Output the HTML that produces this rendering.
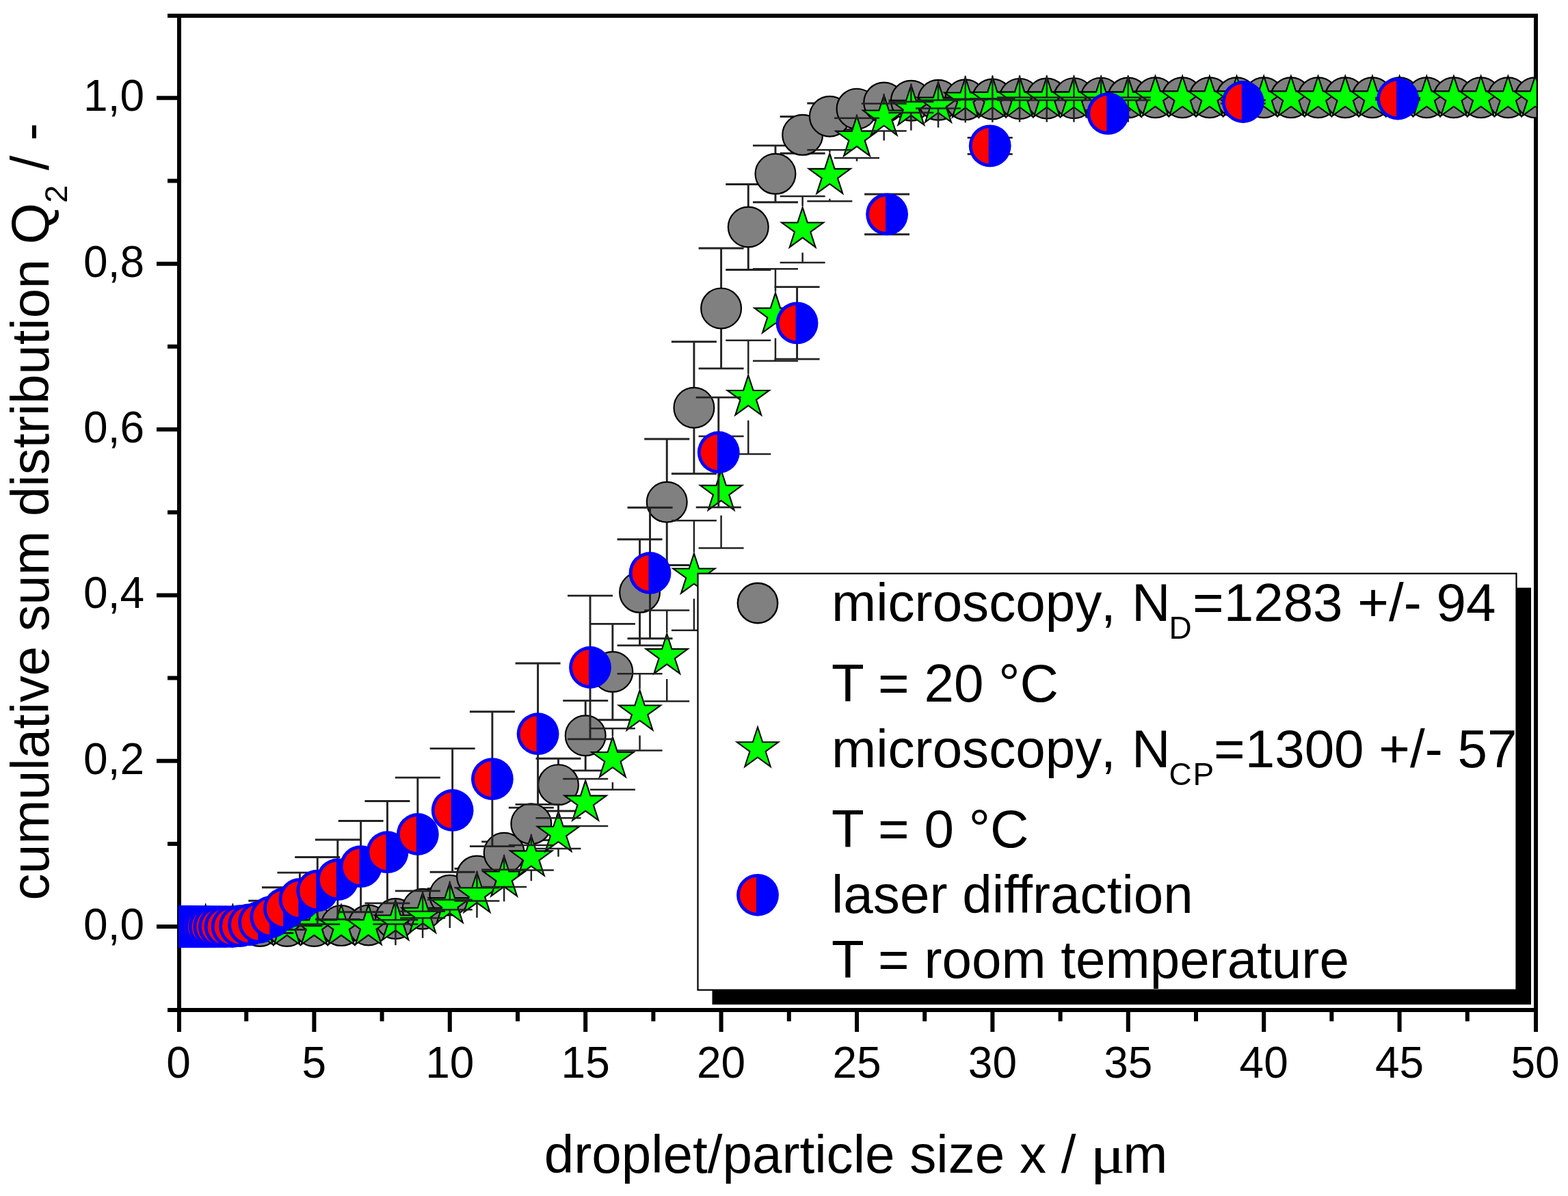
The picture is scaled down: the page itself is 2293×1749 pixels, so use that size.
<!DOCTYPE html>
<html lang="en"><head><meta charset="utf-8"><title>cumulative sum distribution</title>
<style>html,body{margin:0;padding:0;background:#fff;overflow:hidden;width:2293px;height:1749px}svg{display:block}text{font-family:"Liberation Sans",sans-serif;fill:#000}.tk{font-size:64px}.leg{font-size:78.2px}.sub{font-size:46px}</style></head><body>
<svg width="2293" height="1749" viewBox="0 0 2293 1749">
<rect width="2293" height="1749" fill="#fff"/>
<defs><clipPath id="plot"><rect x="261" y="23.0" width="1985.6" height="1454.0"/></clipPath></defs>
<g stroke="#000" stroke-width="6" fill="none" stroke-linecap="butt">
<rect x="262.0" y="23.0" width="1984.0" height="1454.0"/>
<path d="M229 1355.1H262.0M229 1112.74H262.0M229 870.38H262.0M229 628.02H262.0M229 385.66H262.0M229 143.3H262.0M245 1233.92H262.0M245 991.56H262.0M245 749.2H262.0M245 506.84H262.0M245 264.48H262.0M245 23.0H262.0M245 1477.0H262.0M262 1477.0V1509M459.4 1477.0V1509M657.8 1477.0V1509M856.2 1477.0V1509M1054.6 1477.0V1509M1253 1477.0V1509M1451.4 1477.0V1509M1649.8 1477.0V1509M1848.2 1477.0V1509M2046.6 1477.0V1509M2246 1477.0V1509M360.2 1477.0V1493.5M558.6 1477.0V1493.5M757 1477.0V1493.5M955.4 1477.0V1493.5M1153.8 1477.0V1493.5M1352.2 1477.0V1493.5M1550.6 1477.0V1493.5M1749 1477.0V1493.5M1947.4 1477.0V1493.5M2145.8 1477.0V1493.5"/>
</g>
<g clip-path="url(#plot)">
<path d="M538.76 1322.97V1350.55M505.76 1350.55H571.76M538.76 1382.97V1355.39M505.76 1355.39H571.76M578.44 1313.52V1338.67M545.44 1338.67H611.44M578.44 1373.52V1348.36M545.44 1348.36H611.44M618.12 1299.21V1321.94M585.12 1321.94H651.12M618.12 1359.21V1336.49M585.12 1336.49H651.12M657.8 1279.21V1299.52M624.8 1299.52H690.8M657.8 1339.21V1318.91M624.8 1318.91H690.8M697.48 1251.09V1270.18M664.48 1270.18H730.48M697.48 1311.09V1292M664.48 1292H730.48M737.16 1217.27V1230.91M704.16 1230.91H770.16M737.16 1277.27V1263.64M704.16 1263.64H770.16M776.84 1174.85V1181.09M743.84 1181.09H809.84M776.84 1234.85V1228.61M743.84 1228.61H809.84M816.52 1117.64V1109.22M783.52 1109.22H849.52M816.52 1177.64V1186.06M783.52 1186.06H849.52M856.2 1045.76V1024.61M823.2 1024.61H889.2M856.2 1105.76V1126.91M823.2 1126.91H889.2M895.88 952.55V912.37M862.88 912.37H928.88M895.88 1012.55V1052.73M862.88 1052.73H928.88M935.56 836.31V788.74M902.56 788.74H968.56M935.56 896.31V943.89M902.56 943.89H968.56M975.24 704.31V642.07M942.24 642.07H1008.24M975.24 764.31V826.55M942.24 826.55H1008.24M1014.92 566.26V499.77M981.92 499.77H1047.92M1014.92 626.26V692.74M981.92 692.74H1047.92M1054.6 420.92V362.93M1021.6 362.93H1087.6M1054.6 480.92V538.92M1021.6 538.92H1087.6M1094.28 302.02V269.47M1061.28 269.47H1127.28M1094.28 362.02V394.56M1061.28 394.56H1127.28M1133.96 224.32V212.87M1100.96 212.87H1166.96M1133.96 284.32V295.78M1100.96 295.78H1166.96M1173.64 167.35V170.44M1140.64 170.44H1206.64M1173.64 227.35V224.26M1140.64 224.26H1206.64M1213.32 140.2V151.05M1180.32 151.05H1246.32M1213.32 200.2V189.35M1180.32 189.35H1246.32M1253 129.17V147.05M1220 147.05H1286M1253 189.17V171.29M1220 171.29H1286M1292.68 119.96V143.9M1259.68 143.9H1325.68M1292.68 179.96V156.02M1259.68 156.02H1325.68M1332.36 117.29V143.66M1299.36 143.66H1365.36M1332.36 177.29V150.93M1299.36 150.93H1365.36M1372.04 116.32V143.9M1339.04 143.9H1405.04M1372.04 176.32V148.75M1339.04 148.75H1405.04M1411.72 115.84V144.63M1378.72 144.63H1444.72M1411.72 175.84V147.05M1378.72 147.05H1444.72" fill="none" stroke="#222222" stroke-width="2.9"/>
<g fill="#808080" stroke="#000" stroke-width="2.2">
<circle cx="380.04" cy="1354.42" r="29.4"/>
<circle cx="419.72" cy="1354.42" r="29.4"/>
<circle cx="459.4" cy="1354.42" r="29.4"/>
<circle cx="499.08" cy="1353.58" r="29.4"/>
<circle cx="538.76" cy="1352.97" r="29.4"/>
<circle cx="578.44" cy="1343.52" r="29.4"/>
<circle cx="618.12" cy="1329.21" r="29.4"/>
<circle cx="657.8" cy="1309.21" r="29.4"/>
<circle cx="697.48" cy="1281.09" r="29.4"/>
<circle cx="737.16" cy="1247.27" r="29.4"/>
<circle cx="776.84" cy="1204.85" r="29.4"/>
<circle cx="816.52" cy="1147.64" r="29.4"/>
<circle cx="856.2" cy="1075.76" r="29.4"/>
<circle cx="895.88" cy="982.55" r="29.4"/>
<circle cx="935.56" cy="866.31" r="29.4"/>
<circle cx="975.24" cy="734.31" r="29.4"/>
<circle cx="1014.92" cy="596.26" r="29.4"/>
<circle cx="1054.6" cy="450.92" r="29.4"/>
<circle cx="1094.28" cy="332.02" r="29.4"/>
<circle cx="1133.96" cy="254.32" r="29.4"/>
<circle cx="1173.64" cy="197.35" r="29.4"/>
<circle cx="1213.32" cy="170.2" r="29.4"/>
<circle cx="1253" cy="159.17" r="29.4"/>
<circle cx="1292.68" cy="149.96" r="29.4"/>
<circle cx="1332.36" cy="147.29" r="29.4"/>
<circle cx="1372.04" cy="146.32" r="29.4"/>
<circle cx="1411.72" cy="145.84" r="29.4"/>
<circle cx="1451.4" cy="144.99" r="29.4"/>
<circle cx="1491.08" cy="144.38" r="29.4"/>
<circle cx="1530.76" cy="144.02" r="29.4"/>
<circle cx="1570.44" cy="143.66" r="29.4"/>
<circle cx="1610.12" cy="143.17" r="29.4"/>
<circle cx="1649.8" cy="142.93" r="29.4"/>
<circle cx="1689.48" cy="142.69" r="29.4"/>
<circle cx="1729.16" cy="142.69" r="29.4"/>
<circle cx="1768.84" cy="142.69" r="29.4"/>
<circle cx="1808.52" cy="142.69" r="29.4"/>
<circle cx="1848.2" cy="142.69" r="29.4"/>
<circle cx="1887.88" cy="142.69" r="29.4"/>
<circle cx="1927.56" cy="142.69" r="29.4"/>
<circle cx="1967.24" cy="142.69" r="29.4"/>
<circle cx="2006.92" cy="142.69" r="29.4"/>
<circle cx="2046.6" cy="142.69" r="29.4"/>
<circle cx="2086.28" cy="142.69" r="29.4"/>
<circle cx="2125.96" cy="142.69" r="29.4"/>
<circle cx="2165.64" cy="142.69" r="29.4"/>
<circle cx="2205.32" cy="142.69" r="29.4"/>
<circle cx="2245" cy="142.69" r="29.4"/>
</g>
<g fill="#00ff00" stroke="#000" stroke-width="2.1" stroke-linejoin="miter">
<polygon points="300.68,1323.29 307.89,1345.47 331.21,1345.47 312.34,1359.18 319.55,1381.36 300.68,1367.66 281.81,1381.36 289.02,1359.18 270.15,1345.47 293.47,1345.47"/>
<polygon points="340.36,1323.29 347.57,1345.47 370.89,1345.47 352.02,1359.18 359.23,1381.36 340.36,1367.66 321.49,1381.36 328.7,1359.18 309.83,1345.47 333.15,1345.47"/>
<polygon points="380.04,1323.29 387.25,1345.47 410.57,1345.47 391.7,1359.18 398.91,1381.36 380.04,1367.66 361.17,1381.36 368.38,1359.18 349.51,1345.47 372.83,1345.47"/>
<polygon points="419.72,1323.29 426.93,1345.47 450.25,1345.47 431.38,1359.18 438.59,1381.36 419.72,1367.66 400.85,1381.36 408.06,1359.18 389.19,1345.47 412.51,1345.47"/>
<polygon points="459.4,1323.29 466.61,1345.47 489.93,1345.47 471.06,1359.18 478.27,1381.36 459.4,1367.66 440.53,1381.36 447.74,1359.18 428.87,1345.47 452.19,1345.47"/>
<polygon points="499.08,1323.29 506.29,1345.47 529.61,1345.47 510.74,1359.18 517.95,1381.36 499.08,1367.66 480.21,1381.36 487.42,1359.18 468.55,1345.47 491.87,1345.47"/>
<polygon points="538.76,1322.93 545.97,1345.11 569.29,1345.11 550.42,1358.82 557.63,1381 538.76,1367.29 519.89,1381 527.1,1358.82 508.23,1345.11 531.55,1345.11"/>
<polygon points="578.44,1316.26 585.65,1338.44 608.97,1338.44 590.1,1352.15 597.31,1374.33 578.44,1360.62 559.57,1374.33 566.78,1352.15 547.91,1338.44 571.23,1338.44"/>
<polygon points="618.12,1305.6 625.33,1327.78 648.65,1327.78 629.78,1341.49 636.99,1363.67 618.12,1349.96 599.25,1363.67 606.46,1341.49 587.59,1327.78 610.91,1327.78"/>
<polygon points="657.8,1290.93 665.01,1313.11 688.33,1313.11 669.46,1326.82 676.67,1349 657.8,1335.29 638.93,1349 646.14,1326.82 627.27,1313.11 650.59,1313.11"/>
<polygon points="697.48,1275.78 704.69,1297.96 728.01,1297.96 709.14,1311.67 716.35,1333.85 697.48,1320.14 678.61,1333.85 685.82,1311.67 666.95,1297.96 690.27,1297.96"/>
<polygon points="737.16,1252.26 744.37,1274.45 767.69,1274.45 748.82,1288.15 756.03,1310.33 737.16,1296.63 718.29,1310.33 725.5,1288.15 706.63,1274.45 729.95,1274.45"/>
<polygon points="776.84,1222.2 784.05,1244.39 807.37,1244.39 788.5,1258.09 795.71,1280.27 776.84,1266.57 757.97,1280.27 765.18,1258.09 746.31,1244.39 769.63,1244.39"/>
<polygon points="816.52,1186.57 823.73,1208.75 847.05,1208.75 828.18,1222.46 835.39,1244.64 816.52,1230.93 797.65,1244.64 804.86,1222.46 785.99,1208.75 809.31,1208.75"/>
<polygon points="856.2,1141.48 863.41,1163.66 886.73,1163.66 867.86,1177.37 875.07,1199.55 856.2,1185.84 837.33,1199.55 844.54,1177.37 825.67,1163.66 848.99,1163.66"/>
<polygon points="895.88,1077.84 903.09,1100.02 926.41,1100.02 907.54,1113.73 914.75,1135.91 895.88,1122.2 877.01,1135.91 884.22,1113.73 865.35,1100.02 888.67,1100.02"/>
<polygon points="935.56,1009.36 942.77,1031.54 966.09,1031.54 947.22,1045.25 954.43,1067.43 935.56,1053.72 916.69,1067.43 923.9,1045.25 905.03,1031.54 928.35,1031.54"/>
<polygon points="975.24,926.94 982.45,949.12 1005.77,949.12 986.9,962.83 994.11,985.01 975.24,971.3 956.37,985.01 963.58,962.83 944.71,949.12 968.03,949.12"/>
<polygon points="1014.92,809.36 1022.13,831.54 1045.45,831.54 1026.58,845.25 1033.79,867.43 1014.92,853.72 996.05,867.43 1003.26,845.25 984.39,831.54 1007.71,831.54"/>
<polygon points="1054.6,687.67 1061.81,709.85 1085.13,709.85 1066.26,723.56 1073.47,745.74 1054.6,732.03 1035.73,745.74 1042.94,723.56 1024.07,709.85 1047.39,709.85"/>
<polygon points="1094.28,548.76 1101.49,570.94 1124.81,570.94 1105.94,584.65 1113.15,606.83 1094.28,593.12 1075.41,606.83 1082.62,584.65 1063.75,570.94 1087.07,570.94"/>
<polygon points="1133.96,428.4 1141.17,450.58 1164.49,450.58 1145.62,464.29 1152.83,486.47 1133.96,472.76 1115.09,486.47 1122.3,464.29 1103.43,450.58 1126.75,450.58"/>
<polygon points="1173.64,303.31 1180.85,325.49 1204.17,325.49 1185.3,339.2 1192.51,361.38 1173.64,347.67 1154.77,361.38 1161.98,339.2 1143.11,325.49 1166.43,325.49"/>
<polygon points="1213.32,224.65 1220.53,246.83 1243.85,246.83 1224.98,260.54 1232.19,282.72 1213.32,269.01 1194.45,282.72 1201.66,260.54 1182.79,246.83 1206.11,246.83"/>
<polygon points="1253,169.74 1260.21,191.92 1283.53,191.92 1264.66,205.63 1271.87,227.81 1253,214.1 1234.13,227.81 1241.34,205.63 1222.47,191.92 1245.79,191.92"/>
<polygon points="1292.68,139.31 1299.89,161.5 1323.21,161.5 1304.34,175.2 1311.55,197.38 1292.68,183.68 1273.81,197.38 1281.02,175.2 1262.15,161.5 1285.47,161.5"/>
<polygon points="1332.36,124.53 1339.57,146.71 1362.89,146.71 1344.02,160.42 1351.23,182.6 1332.36,168.89 1313.49,182.6 1320.7,160.42 1301.83,146.71 1325.15,146.71"/>
<polygon points="1372.04,120.41 1379.25,142.59 1402.57,142.59 1383.7,156.29 1390.91,178.48 1372.04,164.77 1353.17,178.48 1360.38,156.29 1341.51,142.59 1364.83,142.59"/>
<polygon points="1411.72,113.25 1418.93,135.44 1442.25,135.44 1423.38,149.14 1430.59,171.32 1411.72,157.62 1392.85,171.32 1400.06,149.14 1381.19,135.44 1404.51,135.44"/>
<polygon points="1451.4,112.65 1458.61,134.83 1481.93,134.83 1463.06,148.54 1470.27,170.72 1451.4,157.01 1432.53,170.72 1439.74,148.54 1420.87,134.83 1444.19,134.83"/>
<polygon points="1491.08,112.41 1498.29,134.59 1521.61,134.59 1502.74,148.29 1509.95,170.48 1491.08,156.77 1472.21,170.48 1479.42,148.29 1460.55,134.59 1483.87,134.59"/>
<polygon points="1530.76,112.41 1537.97,134.59 1561.29,134.59 1542.42,148.29 1549.63,170.48 1530.76,156.77 1511.89,170.48 1519.1,148.29 1500.23,134.59 1523.55,134.59"/>
<polygon points="1570.44,112.41 1577.65,134.59 1600.97,134.59 1582.1,148.29 1589.31,170.48 1570.44,156.77 1551.57,170.48 1558.78,148.29 1539.91,134.59 1563.23,134.59"/>
<polygon points="1610.12,112.41 1617.33,134.59 1640.65,134.59 1621.78,148.29 1628.99,170.48 1610.12,156.77 1591.25,170.48 1598.46,148.29 1579.59,134.59 1602.91,134.59"/>
<polygon points="1649.8,112.41 1657.01,134.59 1680.33,134.59 1661.46,148.29 1668.67,170.48 1649.8,156.77 1630.93,170.48 1638.14,148.29 1619.27,134.59 1642.59,134.59"/>
<polygon points="1689.48,111.32 1696.69,133.5 1720.01,133.5 1701.14,147.2 1708.35,169.38 1689.48,155.68 1670.61,169.38 1677.82,147.2 1658.95,133.5 1682.27,133.5"/>
<polygon points="1729.16,111.32 1736.37,133.5 1759.69,133.5 1740.82,147.2 1748.03,169.38 1729.16,155.68 1710.29,169.38 1717.5,147.2 1698.63,133.5 1721.95,133.5"/>
<polygon points="1768.84,111.32 1776.05,133.5 1799.37,133.5 1780.5,147.2 1787.71,169.38 1768.84,155.68 1749.97,169.38 1757.18,147.2 1738.31,133.5 1761.63,133.5"/>
<polygon points="1808.52,111.32 1815.73,133.5 1839.05,133.5 1820.18,147.2 1827.39,169.38 1808.52,155.68 1789.65,169.38 1796.86,147.2 1777.99,133.5 1801.31,133.5"/>
<polygon points="1848.2,111.32 1855.41,133.5 1878.73,133.5 1859.86,147.2 1867.07,169.38 1848.2,155.68 1829.33,169.38 1836.54,147.2 1817.67,133.5 1840.99,133.5"/>
<polygon points="1887.88,111.32 1895.09,133.5 1918.41,133.5 1899.54,147.2 1906.75,169.38 1887.88,155.68 1869.01,169.38 1876.22,147.2 1857.35,133.5 1880.67,133.5"/>
<polygon points="1927.56,111.32 1934.77,133.5 1958.09,133.5 1939.22,147.2 1946.43,169.38 1927.56,155.68 1908.69,169.38 1915.9,147.2 1897.03,133.5 1920.35,133.5"/>
<polygon points="1967.24,111.32 1974.45,133.5 1997.77,133.5 1978.9,147.2 1986.11,169.38 1967.24,155.68 1948.37,169.38 1955.58,147.2 1936.71,133.5 1960.03,133.5"/>
<polygon points="2006.92,111.32 2014.13,133.5 2037.45,133.5 2018.58,147.2 2025.79,169.38 2006.92,155.68 1988.05,169.38 1995.26,147.2 1976.39,133.5 1999.71,133.5"/>
<polygon points="2046.6,111.32 2053.81,133.5 2077.13,133.5 2058.26,147.2 2065.47,169.38 2046.6,155.68 2027.73,169.38 2034.94,147.2 2016.07,133.5 2039.39,133.5"/>
<polygon points="2086.28,111.32 2093.49,133.5 2116.81,133.5 2097.94,147.2 2105.15,169.38 2086.28,155.68 2067.41,169.38 2074.62,147.2 2055.75,133.5 2079.07,133.5"/>
<polygon points="2125.96,111.32 2133.17,133.5 2156.49,133.5 2137.62,147.2 2144.83,169.38 2125.96,155.68 2107.09,169.38 2114.3,147.2 2095.43,133.5 2118.75,133.5"/>
<polygon points="2165.64,111.32 2172.85,133.5 2196.17,133.5 2177.3,147.2 2184.51,169.38 2165.64,155.68 2146.77,169.38 2153.98,147.2 2135.11,133.5 2158.43,133.5"/>
<polygon points="2205.32,111.32 2212.53,133.5 2235.85,133.5 2216.98,147.2 2224.19,169.38 2205.32,155.68 2186.45,169.38 2193.66,147.2 2174.79,133.5 2198.11,133.5"/>
<polygon points="2245,111.32 2252.21,133.5 2275.53,133.5 2256.66,147.2 2263.87,169.38 2245,155.68 2226.13,169.38 2233.34,147.2 2214.47,133.5 2237.79,133.5"/>
</g>
<path d="M578.44 1314.36V1345.33M545.44 1345.33H611.44M578.44 1382.36V1351.39M545.44 1351.39H611.44M618.12 1303.7V1332.85M585.12 1332.85H651.12M618.12 1371.7V1342.55M585.12 1342.55H651.12M657.8 1289.03V1315.76M624.8 1315.76H690.8M657.8 1357.03V1330.3M624.8 1330.3H690.8M697.48 1273.88V1298.18M664.48 1298.18H730.48M697.48 1341.88V1317.58M664.48 1317.58H730.48M737.16 1250.36V1271.64M704.16 1271.64H770.16M737.16 1318.36V1297.09M704.16 1297.09H770.16M776.84 1220.3V1236M743.84 1236H809.84M776.84 1288.3V1272.61M743.84 1272.61H809.84M816.52 1184.67V1196.37M783.52 1196.37H849.52M816.52 1252.67V1240.97M783.52 1240.97H849.52M856.2 1139.58V1139.03M823.2 1139.03H889.2M856.2 1207.58V1208.12M823.2 1208.12H889.2M895.88 1075.94V1065.22M862.88 1065.22H928.88M895.88 1143.94V1154.67M862.88 1154.67H928.88M935.56 1007.46V985.34M902.56 985.34H968.56M935.56 1075.46V1097.58M902.56 1097.58H968.56M975.24 925.04V892.49M942.24 892.49H1008.24M975.24 993.04V1025.58M942.24 1025.58H1008.24M1014.92 807.46V761.22M981.92 761.22H1047.92M1014.92 875.46V921.7M981.92 921.7H1047.92M1054.6 685.77V637.95M1021.6 637.95H1087.6M1054.6 753.77V801.59M1021.6 801.59H1087.6M1094.28 546.86V497.83M1061.28 497.83H1127.28M1094.28 614.86V663.89M1061.28 663.89H1127.28M1133.96 426.5V393.35M1100.96 393.35H1166.96M1133.96 494.5V527.65M1100.96 527.65H1166.96M1173.64 301.41V286.93M1140.64 286.93H1206.64M1173.64 369.41V383.9M1140.64 383.9H1206.64M1213.32 222.75V219.29M1180.32 219.29H1246.32M1213.32 290.75V294.2M1180.32 294.2H1246.32M1253 167.84V172.75M1220 172.75H1286M1253 235.84V230.93M1220 230.93H1286M1292.68 137.41V151.42M1259.68 151.42H1325.68M1292.68 205.41V191.41M1259.68 191.41H1325.68M1332.36 122.63V148.63M1299.36 148.63H1365.36M1332.36 190.63V164.63M1299.36 164.63H1365.36M1372.04 118.51V146.45M1339.04 146.45H1405.04M1372.04 186.51V158.57M1339.04 158.57H1405.04M1411.72 111.35V144.87M1378.72 144.87H1444.72M1411.72 179.35V145.84M1378.72 145.84H1444.72M1451.4 110.75V144.26M1418.4 144.26H1484.4M1451.4 178.75V145.23M1418.4 145.23H1484.4M1491.08 110.51V142.57M1458.08 142.57H1524.08M1491.08 178.51V146.45M1458.08 146.45H1524.08M1530.76 110.51V142.57M1497.76 142.57H1563.76M1530.76 178.51V146.45M1497.76 146.45H1563.76M1570.44 110.51V142.57M1537.44 142.57H1603.44M1570.44 178.51V146.45M1537.44 146.45H1603.44M1610.12 110.51V142.57M1577.12 142.57H1643.12M1610.12 178.51V146.45M1577.12 146.45H1643.12M1649.8 110.51V142.57M1616.8 142.57H1682.8M1649.8 178.51V146.45M1616.8 146.45H1682.8" fill="none" stroke="#222222" stroke-width="2.5"/>
<path d="M351.03 1324.18V1350.55M318.03 1350.55H384.03M351.03 1384.18V1357.82M318.03 1357.82H384.03M364.13 1322.36V1343.88M331.13 1343.88H397.13M364.13 1382.36V1360.85M331.13 1360.85H397.13M379.09 1318.73V1334.18M346.09 1334.18H412.09M379.09 1378.73V1363.27M346.09 1363.27H412.09M396.27 1310.85V1317.21M363.27 1317.21H429.27M396.27 1370.85V1364.48M363.27 1364.48H429.27M415.95 1298.61V1297.7M382.95 1297.7H448.95M415.95 1358.61V1359.52M382.95 1359.52H448.95M438.45 1284.91V1276.12M405.45 1276.12H471.45M438.45 1344.91V1353.7M405.45 1353.7H471.45M464.24 1272.55V1253.46M431.24 1253.46H497.24M464.24 1332.55V1351.64M431.24 1351.64H497.24M493.8 1256.18V1228M460.8 1228H526.8M493.8 1316.18V1344.36M460.8 1344.36H526.8M527.65 1237.15V1200.49M494.65 1200.49H560.65M527.65 1297.15V1333.82M494.65 1333.82H560.65M566.42 1216.18V1171.52M533.42 1171.52H599.42M566.42 1276.18V1320.85M533.42 1320.85H599.42M610.82 1190V1137.09M577.82 1137.09H643.82M610.82 1250V1302.91M577.82 1302.91H643.82M661.65 1154.97V1094.67M628.65 1094.67H694.65M661.65 1214.97V1275.27M628.65 1275.27H694.65M719.9 1109.16V1040.73M686.9 1040.73H752.9M719.9 1169.16V1237.58M686.9 1237.58H752.9M786.6 1043.22V970.07M753.6 970.07H819.6M786.6 1103.22V1176.37M753.6 1176.37H819.6M863.02 946.01V871.16M830.02 871.16H896.02M863.02 1006.01V1080.85M830.02 1080.85H896.02M950.52 807.95V742.19M917.52 742.19H983.52M950.52 867.95V933.7M917.52 933.7H983.52M1050.79 631.47V581.1M1017.79 581.1H1083.79M1050.79 691.47V741.83M1017.79 741.83H1083.79M1165.58 442.38V419.65M1132.58 419.65H1198.58M1165.58 502.38V525.11M1132.58 525.11H1198.58M1297.08 283.35V284.02M1264.08 284.02H1330.08M1297.08 343.35V342.68M1264.08 342.68H1330.08M1447.71 183.35V201.35M1414.71 201.35H1480.71M1447.71 243.35V225.35M1414.71 225.35H1480.71M1620.24 136.08V161.23M1587.24 161.23H1653.24M1620.24 196.08V170.93M1587.24 170.93H1653.24M1817.81 118.99V146.57M1784.81 146.57H1850.81M1817.81 178.99V151.42M1784.81 151.42H1850.81M2044.14 114.51V143.29M2011.14 143.29H2077.14M2044.14 174.51V145.72M2011.14 145.72H2077.14" fill="none" stroke="#222222" stroke-width="2.9"/>
<circle cx="261.44" cy="1355.15" r="30.9" fill="#0000ff"/><path d="M259.44 1329.13A26.1 26.1 0 0 0 259.44 1381.17Z" fill="#ff0000"/>
<circle cx="261.52" cy="1355.15" r="30.9" fill="#0000ff"/><path d="M259.52 1329.13A26.1 26.1 0 0 0 259.52 1381.17Z" fill="#ff0000"/>
<circle cx="261.6" cy="1355.15" r="30.9" fill="#0000ff"/><path d="M259.6 1329.13A26.1 26.1 0 0 0 259.6 1381.17Z" fill="#ff0000"/>
<circle cx="261.67" cy="1355.15" r="30.9" fill="#0000ff"/><path d="M259.67 1329.13A26.1 26.1 0 0 0 259.67 1381.17Z" fill="#ff0000"/>
<circle cx="261.79" cy="1355.15" r="30.9" fill="#0000ff"/><path d="M259.79 1329.13A26.1 26.1 0 0 0 259.79 1381.17Z" fill="#ff0000"/>
<circle cx="261.91" cy="1355.15" r="30.9" fill="#0000ff"/><path d="M259.91 1329.13A26.1 26.1 0 0 0 259.91 1381.17Z" fill="#ff0000"/>
<circle cx="262.03" cy="1355.15" r="30.9" fill="#0000ff"/><path d="M260.03 1329.13A26.1 26.1 0 0 0 260.03 1381.17Z" fill="#ff0000"/>
<circle cx="262.19" cy="1355.15" r="30.9" fill="#0000ff"/><path d="M260.19 1329.13A26.1 26.1 0 0 0 260.19 1381.17Z" fill="#ff0000"/>
<circle cx="262.35" cy="1355.15" r="30.9" fill="#0000ff"/><path d="M260.35 1329.13A26.1 26.1 0 0 0 260.35 1381.17Z" fill="#ff0000"/>
<circle cx="262.55" cy="1355.15" r="30.9" fill="#0000ff"/><path d="M260.55 1329.13A26.1 26.1 0 0 0 260.55 1381.17Z" fill="#ff0000"/>
<circle cx="262.75" cy="1355.15" r="30.9" fill="#0000ff"/><path d="M260.75 1329.13A26.1 26.1 0 0 0 260.75 1381.17Z" fill="#ff0000"/>
<circle cx="263.02" cy="1355.15" r="30.9" fill="#0000ff"/><path d="M261.02 1329.13A26.1 26.1 0 0 0 261.02 1381.17Z" fill="#ff0000"/>
<circle cx="263.3" cy="1355.15" r="30.9" fill="#0000ff"/><path d="M261.3 1329.13A26.1 26.1 0 0 0 261.3 1381.17Z" fill="#ff0000"/>
<circle cx="263.66" cy="1355.15" r="30.9" fill="#0000ff"/><path d="M261.66 1329.13A26.1 26.1 0 0 0 261.66 1381.17Z" fill="#ff0000"/>
<circle cx="264.02" cy="1355.15" r="30.9" fill="#0000ff"/><path d="M262.02 1329.13A26.1 26.1 0 0 0 262.02 1381.17Z" fill="#ff0000"/>
<circle cx="264.45" cy="1355.15" r="30.9" fill="#0000ff"/><path d="M262.45 1329.13A26.1 26.1 0 0 0 262.45 1381.17Z" fill="#ff0000"/>
<circle cx="264.97" cy="1355.15" r="30.9" fill="#0000ff"/><path d="M262.97 1329.13A26.1 26.1 0 0 0 262.97 1381.17Z" fill="#ff0000"/>
<circle cx="265.56" cy="1355.15" r="30.9" fill="#0000ff"/><path d="M263.56 1329.13A26.1 26.1 0 0 0 263.56 1381.17Z" fill="#ff0000"/>
<circle cx="266.2" cy="1355.15" r="30.9" fill="#0000ff"/><path d="M264.2 1329.13A26.1 26.1 0 0 0 264.2 1381.17Z" fill="#ff0000"/>
<circle cx="266.95" cy="1355.15" r="30.9" fill="#0000ff"/><path d="M264.95 1329.13A26.1 26.1 0 0 0 264.95 1381.17Z" fill="#ff0000"/>
<circle cx="267.82" cy="1355.15" r="30.9" fill="#0000ff"/><path d="M265.82 1329.13A26.1 26.1 0 0 0 265.82 1381.17Z" fill="#ff0000"/>
<circle cx="268.82" cy="1355.15" r="30.9" fill="#0000ff"/><path d="M266.82 1329.13A26.1 26.1 0 0 0 266.82 1381.17Z" fill="#ff0000"/>
<circle cx="269.97" cy="1355.15" r="30.9" fill="#0000ff"/><path d="M267.97 1329.13A26.1 26.1 0 0 0 267.97 1381.17Z" fill="#ff0000"/>
<circle cx="271.28" cy="1355.15" r="30.9" fill="#0000ff"/><path d="M269.28 1329.13A26.1 26.1 0 0 0 269.28 1381.17Z" fill="#ff0000"/>
<circle cx="272.75" cy="1355.15" r="30.9" fill="#0000ff"/><path d="M270.75 1329.13A26.1 26.1 0 0 0 270.75 1381.17Z" fill="#ff0000"/>
<circle cx="274.45" cy="1355.15" r="30.9" fill="#0000ff"/><path d="M272.45 1329.13A26.1 26.1 0 0 0 272.45 1381.17Z" fill="#ff0000"/>
<circle cx="276.44" cy="1355.15" r="30.9" fill="#0000ff"/><path d="M274.44 1329.13A26.1 26.1 0 0 0 274.44 1381.17Z" fill="#ff0000"/>
<circle cx="278.66" cy="1355.15" r="30.9" fill="#0000ff"/><path d="M276.66 1329.13A26.1 26.1 0 0 0 276.66 1381.17Z" fill="#ff0000"/>
<circle cx="281.24" cy="1355.15" r="30.9" fill="#0000ff"/><path d="M279.24 1329.13A26.1 26.1 0 0 0 279.24 1381.17Z" fill="#ff0000"/>
<circle cx="284.17" cy="1355.15" r="30.9" fill="#0000ff"/><path d="M282.17 1329.13A26.1 26.1 0 0 0 282.17 1381.17Z" fill="#ff0000"/>
<circle cx="287.55" cy="1355.15" r="30.9" fill="#0000ff"/><path d="M285.55 1329.13A26.1 26.1 0 0 0 285.55 1381.17Z" fill="#ff0000"/>
<circle cx="291.39" cy="1355.15" r="30.9" fill="#0000ff"/><path d="M289.39 1329.13A26.1 26.1 0 0 0 289.39 1381.17Z" fill="#ff0000"/>
<circle cx="295.8" cy="1355.15" r="30.9" fill="#0000ff"/><path d="M293.8 1329.13A26.1 26.1 0 0 0 293.8 1381.17Z" fill="#ff0000"/>
<circle cx="300.88" cy="1355.15" r="30.9" fill="#0000ff"/><path d="M298.88 1329.13A26.1 26.1 0 0 0 298.88 1381.17Z" fill="#ff0000"/>
<circle cx="306.67" cy="1355.15" r="30.9" fill="#0000ff"/><path d="M304.67 1329.13A26.1 26.1 0 0 0 304.67 1381.17Z" fill="#ff0000"/>
<circle cx="313.3" cy="1355.15" r="30.9" fill="#0000ff"/><path d="M311.3 1329.13A26.1 26.1 0 0 0 311.3 1381.17Z" fill="#ff0000"/>
<circle cx="320.92" cy="1355.15" r="30.9" fill="#0000ff"/><path d="M318.92 1329.13A26.1 26.1 0 0 0 318.92 1381.17Z" fill="#ff0000"/>
<circle cx="329.61" cy="1355.15" r="30.9" fill="#0000ff"/><path d="M327.61 1329.13A26.1 26.1 0 0 0 327.61 1381.17Z" fill="#ff0000"/>
<circle cx="339.61" cy="1355.03" r="30.9" fill="#0000ff"/><path d="M337.61 1329.01A26.1 26.1 0 0 0 337.61 1381.05Z" fill="#ff0000"/>
<circle cx="351.03" cy="1354.18" r="30.9" fill="#0000ff"/><path d="M349.03 1328.16A26.1 26.1 0 0 0 349.03 1380.21Z" fill="#ff0000"/>
<circle cx="364.13" cy="1352.36" r="30.9" fill="#0000ff"/><path d="M362.13 1326.34A26.1 26.1 0 0 0 362.13 1378.39Z" fill="#ff0000"/>
<circle cx="379.09" cy="1348.73" r="30.9" fill="#0000ff"/><path d="M377.09 1322.7A26.1 26.1 0 0 0 377.09 1374.75Z" fill="#ff0000"/>
<circle cx="396.27" cy="1340.85" r="30.9" fill="#0000ff"/><path d="M394.27 1314.83A26.1 26.1 0 0 0 394.27 1366.87Z" fill="#ff0000"/>
<circle cx="415.95" cy="1328.61" r="30.9" fill="#0000ff"/><path d="M413.95 1302.58A26.1 26.1 0 0 0 413.95 1354.63Z" fill="#ff0000"/>
<circle cx="438.45" cy="1314.91" r="30.9" fill="#0000ff"/><path d="M436.45 1288.89A26.1 26.1 0 0 0 436.45 1340.93Z" fill="#ff0000"/>
<circle cx="464.24" cy="1302.55" r="30.9" fill="#0000ff"/><path d="M462.24 1276.52A26.1 26.1 0 0 0 462.24 1328.57Z" fill="#ff0000"/>
<circle cx="493.8" cy="1286.18" r="30.9" fill="#0000ff"/><path d="M491.8 1260.16A26.1 26.1 0 0 0 491.8 1312.21Z" fill="#ff0000"/>
<circle cx="527.65" cy="1267.15" r="30.9" fill="#0000ff"/><path d="M525.65 1241.13A26.1 26.1 0 0 0 525.65 1293.18Z" fill="#ff0000"/>
<circle cx="566.42" cy="1246.18" r="30.9" fill="#0000ff"/><path d="M564.42 1220.16A26.1 26.1 0 0 0 564.42 1272.21Z" fill="#ff0000"/>
<circle cx="610.82" cy="1220" r="30.9" fill="#0000ff"/><path d="M608.82 1193.98A26.1 26.1 0 0 0 608.82 1246.03Z" fill="#ff0000"/>
<circle cx="661.65" cy="1184.97" r="30.9" fill="#0000ff"/><path d="M659.65 1158.95A26.1 26.1 0 0 0 659.65 1211Z" fill="#ff0000"/>
<circle cx="719.9" cy="1139.16" r="30.9" fill="#0000ff"/><path d="M717.9 1113.13A26.1 26.1 0 0 0 717.9 1165.18Z" fill="#ff0000"/>
<circle cx="786.6" cy="1073.22" r="30.9" fill="#0000ff"/><path d="M784.6 1047.19A26.1 26.1 0 0 0 784.6 1099.24Z" fill="#ff0000"/>
<circle cx="863.02" cy="976.01" r="30.9" fill="#0000ff"/><path d="M861.02 949.98A26.1 26.1 0 0 0 861.02 1002.03Z" fill="#ff0000"/>
<circle cx="950.52" cy="837.95" r="30.9" fill="#0000ff"/><path d="M948.52 811.93A26.1 26.1 0 0 0 948.52 863.97Z" fill="#ff0000"/>
<circle cx="1050.79" cy="661.47" r="30.9" fill="#0000ff"/><path d="M1048.79 635.44A26.1 26.1 0 0 0 1048.79 687.49Z" fill="#ff0000"/>
<circle cx="1165.58" cy="472.38" r="30.9" fill="#0000ff"/><path d="M1163.58 446.36A26.1 26.1 0 0 0 1163.58 498.4Z" fill="#ff0000"/>
<circle cx="1297.08" cy="313.35" r="30.9" fill="#0000ff"/><path d="M1295.08 287.33A26.1 26.1 0 0 0 1295.08 339.37Z" fill="#ff0000"/>
<circle cx="1447.71" cy="213.35" r="30.9" fill="#0000ff"/><path d="M1445.71 187.33A26.1 26.1 0 0 0 1445.71 239.38Z" fill="#ff0000"/>
<circle cx="1620.24" cy="166.08" r="30.9" fill="#0000ff"/><path d="M1618.24 140.06A26.1 26.1 0 0 0 1618.24 192.1Z" fill="#ff0000"/>
<circle cx="1817.81" cy="148.99" r="30.9" fill="#0000ff"/><path d="M1815.81 122.97A26.1 26.1 0 0 0 1815.81 175.01Z" fill="#ff0000"/>
<circle cx="2044.14" cy="144.51" r="30.9" fill="#0000ff"/><path d="M2042.14 118.48A26.1 26.1 0 0 0 2042.14 170.53Z" fill="#ff0000"/>
</g>
<rect x="1041.5" y="859.5" width="1197.5" height="609.5" fill="#000"/>
<rect x="1020.5" y="838.7" width="1197" height="609" fill="#fff" stroke="#000" stroke-width="2.2"/>
<circle cx="1108" cy="882" r="29.2" fill="#808080" stroke="#000" stroke-width="2.4"/>
<polygon points="1108,1063.3 1115.16,1085.34 1138.34,1085.34 1119.59,1098.97 1126.75,1121.01 1108,1107.38 1089.25,1121.01 1096.41,1098.97 1077.66,1085.34 1100.84,1085.34" fill="#00ff00" stroke="#000" stroke-width="2"/>
<circle cx="1108" cy="1308.8" r="30.9" fill="#0000ff"/><path d="M1106 1282.78A26.1 26.1 0 0 0 1106 1334.82Z" fill="#ff0000"/>
<text class="leg" x="1216" y="908.3">microscopy<tspan dx="4.5">,</tspan><tspan dx="1.5"> N</tspan></text>
<text class="sub" x="1709.5" y="933.8">D</text>
<text class="leg" x="1744" y="908.3">=1283 +/- 94</text>
<text class="leg" x="1216" y="1025.6">T = 20 °C</text>
<text class="leg" x="1216" y="1121.7">microscopy<tspan dx="4.5">,</tspan><tspan dx="1.5"> N</tspan></text>
<text class="sub" x="1709.5" y="1147.5" letter-spacing="1.8">CP</text>
<text class="leg" x="1775" y="1121.7">=1300 +/- 57</text>
<text class="leg" x="1216" y="1239.3">T = 0 °C</text>
<text class="leg" x="1216" y="1335.1">laser diffraction</text>
<text class="leg" x="1216" y="1430.4">T = room temperature</text>
<text class="tk" x="211" y="1374.1" text-anchor="end">0,0</text>
<text class="tk" x="211" y="1131.74" text-anchor="end">0,2</text>
<text class="tk" x="211" y="889.38" text-anchor="end">0,4</text>
<text class="tk" x="211" y="647.02" text-anchor="end">0,6</text>
<text class="tk" x="211" y="404.66" text-anchor="end">0,8</text>
<text class="tk" x="211" y="162.3" text-anchor="end">1,0</text>
<text class="tk" x="261" y="1575.7" text-anchor="middle">0</text>
<text class="tk" x="459.4" y="1575.7" text-anchor="middle">5</text>
<text class="tk" x="657.8" y="1575.7" text-anchor="middle">10</text>
<text class="tk" x="856.2" y="1575.7" text-anchor="middle">15</text>
<text class="tk" x="1054.6" y="1575.7" text-anchor="middle">20</text>
<text class="tk" x="1253" y="1575.7" text-anchor="middle">25</text>
<text class="tk" x="1451.4" y="1575.7" text-anchor="middle">30</text>
<text class="tk" x="1649.8" y="1575.7" text-anchor="middle">35</text>
<text class="tk" x="1848.2" y="1575.7" text-anchor="middle">40</text>
<text class="tk" x="2046.6" y="1575.7" text-anchor="middle">45</text>
<text class="tk" x="2245" y="1575.7" text-anchor="middle">50</text>
<text x="795.7" y="1714.8" font-size="78.2">droplet/particle size x /</text>
<text transform="translate(1594.3 1714.8) scale(1.22 1)" font-size="78.2" style="font-family:'Liberation Serif',serif">μ</text>
<text x="1642.2" y="1714.8" font-size="78.2">m</text>
<text transform="translate(70.5 1316.6) rotate(-90)" font-size="77.75">cumulative sum distribution Q<tspan font-size="47" dy="27">2</tspan><tspan dy="-27"> / -</tspan></text>
</svg></body></html>
